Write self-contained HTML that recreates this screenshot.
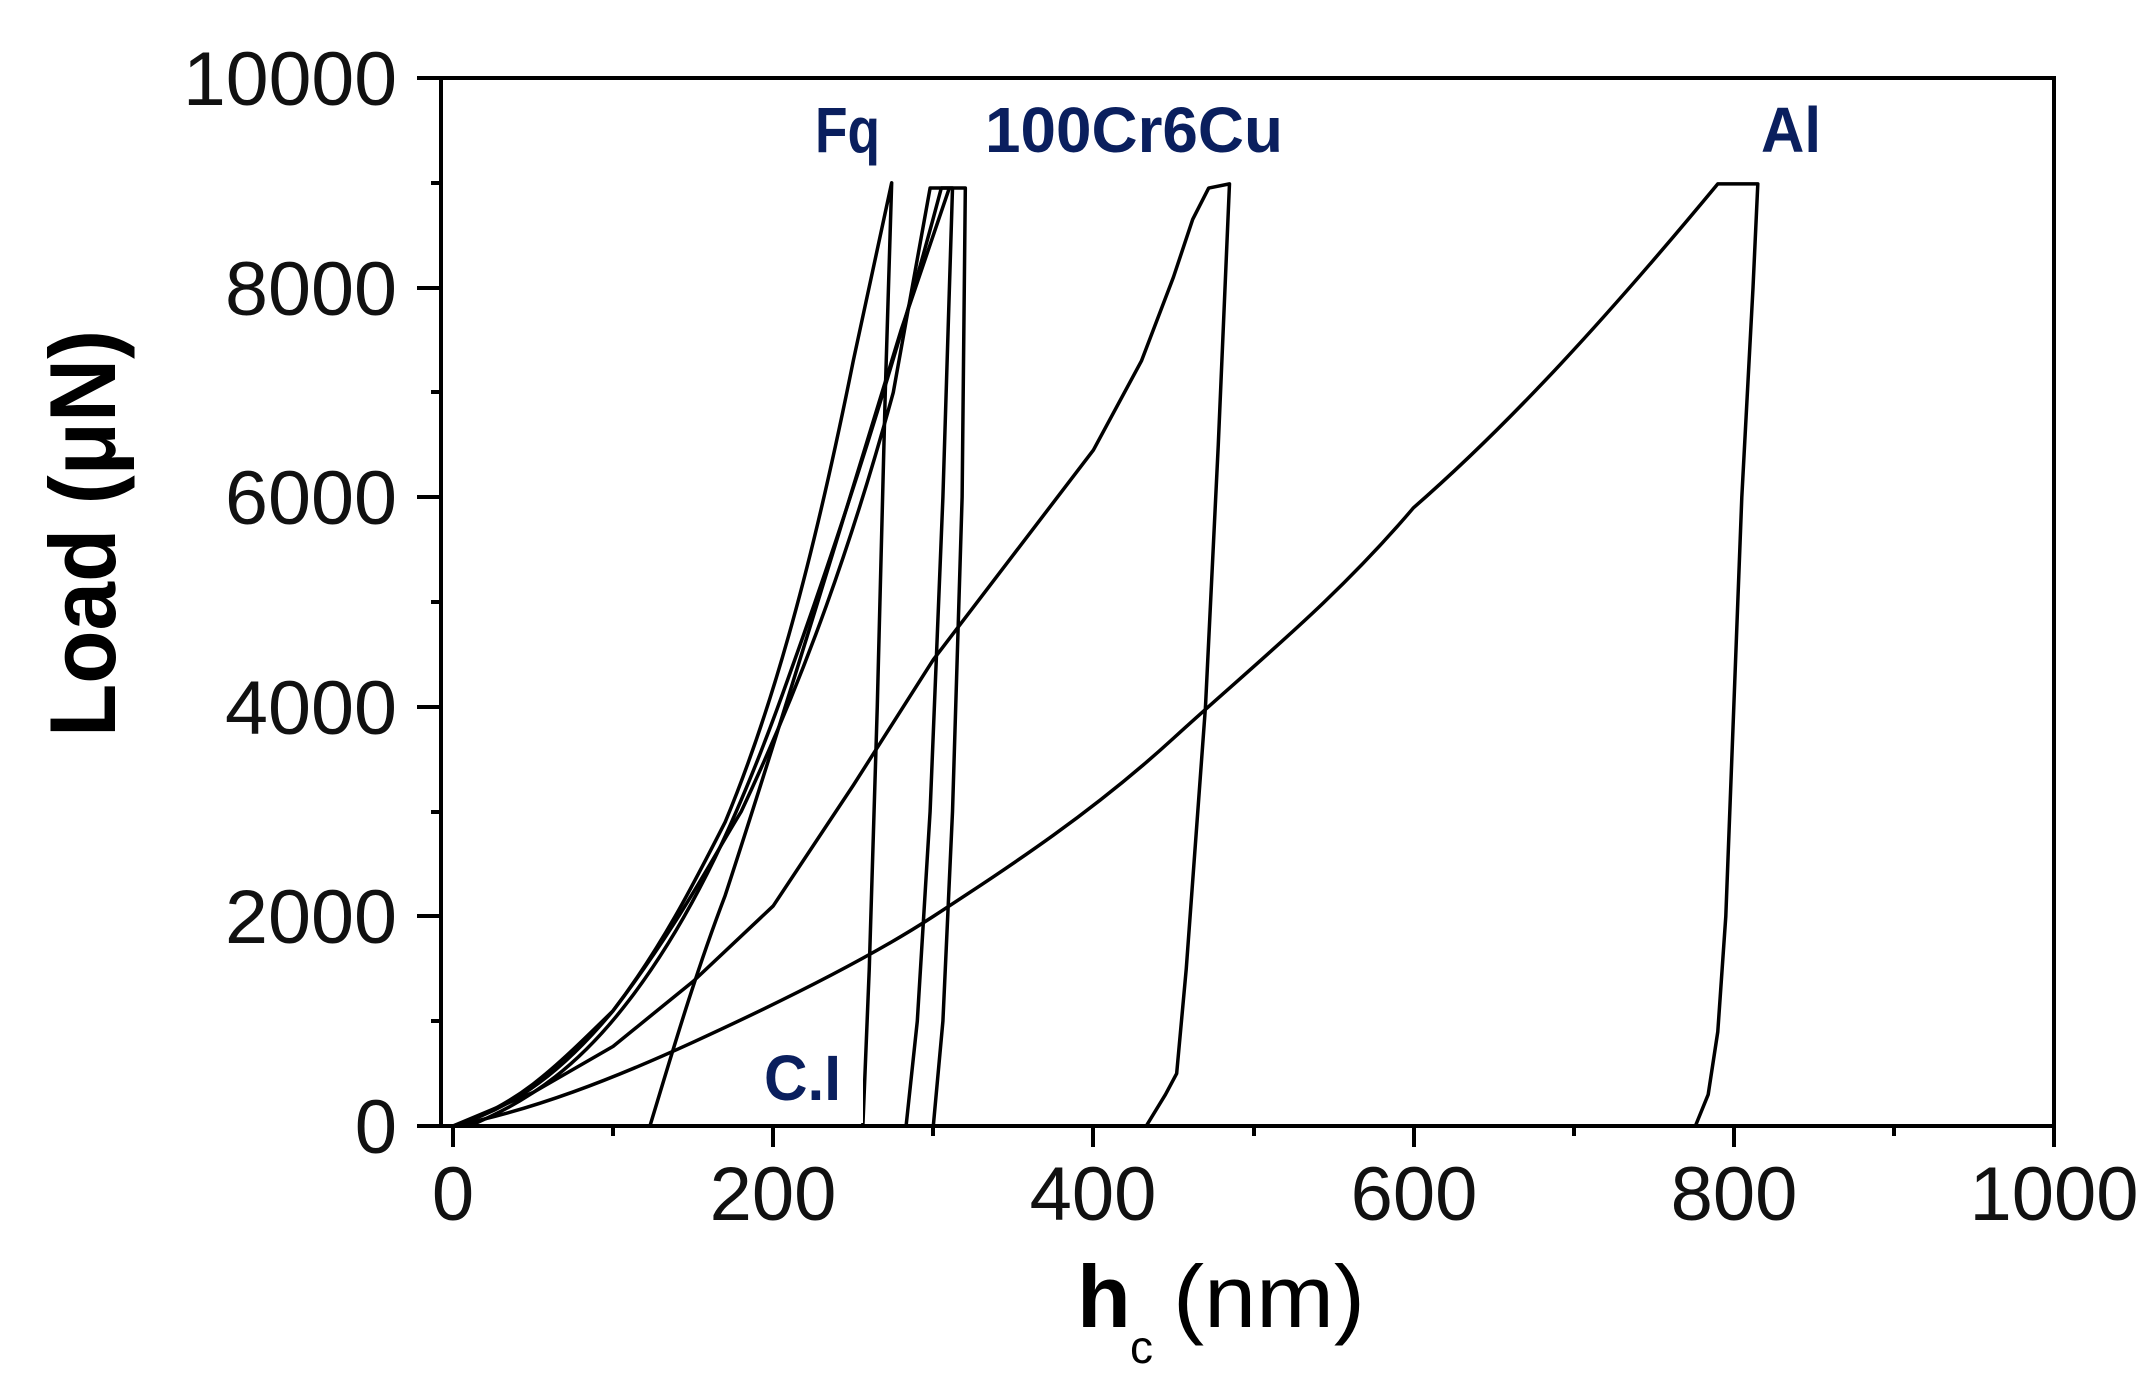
<!DOCTYPE html>
<html><head><meta charset="utf-8"><style>
html,body{margin:0;padding:0;background:#fff;}
svg{display:block;}
</style></head><body>
<svg width="2152" height="1375" viewBox="0 0 2152 1375" xmlns="http://www.w3.org/2000/svg">
<rect width="2152" height="1375" fill="#fff"/>
<g transform="translate(453,1126) scale(1.601,-0.1048)" fill="none" stroke="#000" stroke-width="3.5" stroke-linejoin="round">
<path vector-effect="non-scaling-stroke" d="M0,0 C40,200 60,500 100,1100 C130,1700 150,2300 170,2900 C200,4000 225,5400 250,7300 L274,9000 L270,7000 L265,4000 L260,1500 L256,0"/>
<path vector-effect="non-scaling-stroke" d="M0,0 C40,180 70,550 100,1100 C140,1900 160,2500 180,3000 C220,4300 250,5600 275,7000 L298,8950 L312,8950 L306,6000 L298,3000 L290,1000 L283,0"/>
<path vector-effect="non-scaling-stroke" d="M10,0 C50,250 80,600 110,1200 C150,2000 180,3000 210,4300 C250,6000 280,7500 305,8950 L320,8950 L318,6000 L312,3000 L306,1000 L300,0"/>
<path vector-effect="non-scaling-stroke" d="M123,0 C135,600 150,1400 170,2200 C200,3600 240,5600 280,7600 L310,8950"/>
<path vector-effect="non-scaling-stroke" d="M0,0 L50,320 L100,760 L150,1380 L200,2100 L250,3250 L300,4450 L350,5450 L400,6450 L430,7300 L450,8100 L462,8650 L472,8950 L485,8990 L478,6500 L470,4000 L458,1500 L452,500 L445,300 L433,0"/>
<path vector-effect="non-scaling-stroke" d="M0,0 C50,150 100,450 150,800 C200,1150 260,1600 300,2000 C350,2500 400,3000 450,3700 C500,4400 550,5000 600,5900 C660,6700 720,7700 790,8990 L815,8990 L812,8000 L805,6000 L795,2000 L790,900 L784,300 L776,0"/>
</g>
<rect x="743" y="1040" width="120" height="83" fill="#fff"/>
<g stroke="#000" stroke-width="4" fill="none">
<rect x="441" y="78" width="1613" height="1048"/>
</g>
<g stroke="#000" stroke-width="4">
<line x1="417" y1="1126" x2="441" y2="1126"/><line x1="431" y1="1021" x2="441" y2="1021"/>
<line x1="417" y1="916" x2="441" y2="916"/><line x1="431" y1="812" x2="441" y2="812"/>
<line x1="417" y1="707" x2="441" y2="707"/><line x1="431" y1="602" x2="441" y2="602"/>
<line x1="417" y1="497" x2="441" y2="497"/><line x1="431" y1="392" x2="441" y2="392"/>
<line x1="417" y1="288" x2="441" y2="288"/><line x1="431" y1="183" x2="441" y2="183"/>
<line x1="417" y1="78" x2="441" y2="78"/>
<line x1="453" y1="1126" x2="453" y2="1147"/><line x1="613" y1="1126" x2="613" y2="1136"/>
<line x1="773" y1="1126" x2="773" y2="1147"/><line x1="933" y1="1126" x2="933" y2="1136"/>
<line x1="1093" y1="1126" x2="1093" y2="1147"/><line x1="1254" y1="1126" x2="1254" y2="1136"/>
<line x1="1414" y1="1126" x2="1414" y2="1147"/><line x1="1574" y1="1126" x2="1574" y2="1136"/>
<line x1="1734" y1="1126" x2="1734" y2="1147"/><line x1="1894" y1="1126" x2="1894" y2="1136"/>
<line x1="2054" y1="1126" x2="2054" y2="1147"/>
</g>
<g font-family="Liberation Sans, sans-serif" font-size="76" fill="#111" text-anchor="end">
<text x="397" y="105" textLength="214" lengthAdjust="spacingAndGlyphs">10000</text>
<text x="397" y="315" textLength="172" lengthAdjust="spacingAndGlyphs">8000</text>
<text x="397" y="524" textLength="172" lengthAdjust="spacingAndGlyphs">6000</text>
<text x="397" y="734" textLength="172" lengthAdjust="spacingAndGlyphs">4000</text>
<text x="397" y="943" textLength="172" lengthAdjust="spacingAndGlyphs">2000</text>
<text x="397" y="1153">0</text>
</g>
<g font-family="Liberation Sans, sans-serif" font-size="76" fill="#111" text-anchor="middle">
<text x="453" y="1220">0</text>
<text x="773" y="1220">200</text>
<text x="1093" y="1220">400</text>
<text x="1414" y="1220">600</text>
<text x="1734" y="1220">800</text>
<text x="2054" y="1220">1000</text>
</g>
<text x="1077" y="1327" font-family="Liberation Sans, sans-serif" font-weight="bold" font-size="88" fill="#000">h</text>
<text x="1130" y="1363" font-family="Liberation Sans, sans-serif" font-size="46" fill="#000">c</text>
<text x="1173" y="1327" font-family="Liberation Sans, sans-serif" font-size="88" fill="#000" textLength="192" lengthAdjust="spacingAndGlyphs">(nm)</text>
<text transform="translate(115,737) rotate(-90)" font-family="Liberation Sans, sans-serif" font-weight="bold" font-size="94" fill="#000" textLength="407" lengthAdjust="spacingAndGlyphs">Load (μN)</text>
<g font-family="Liberation Sans, sans-serif" font-weight="bold" font-size="64" fill="#0a1f5e">
<text x="815" y="152" textLength="65" lengthAdjust="spacingAndGlyphs">Fq</text>
<text x="985" y="152" textLength="298" lengthAdjust="spacingAndGlyphs">100Cr6Cu</text>
<text x="1761" y="152" textLength="60" lengthAdjust="spacingAndGlyphs">Al</text>
<text x="764" y="1100" textLength="77" lengthAdjust="spacingAndGlyphs">C.I</text>
</g>
</svg>
</body></html>
